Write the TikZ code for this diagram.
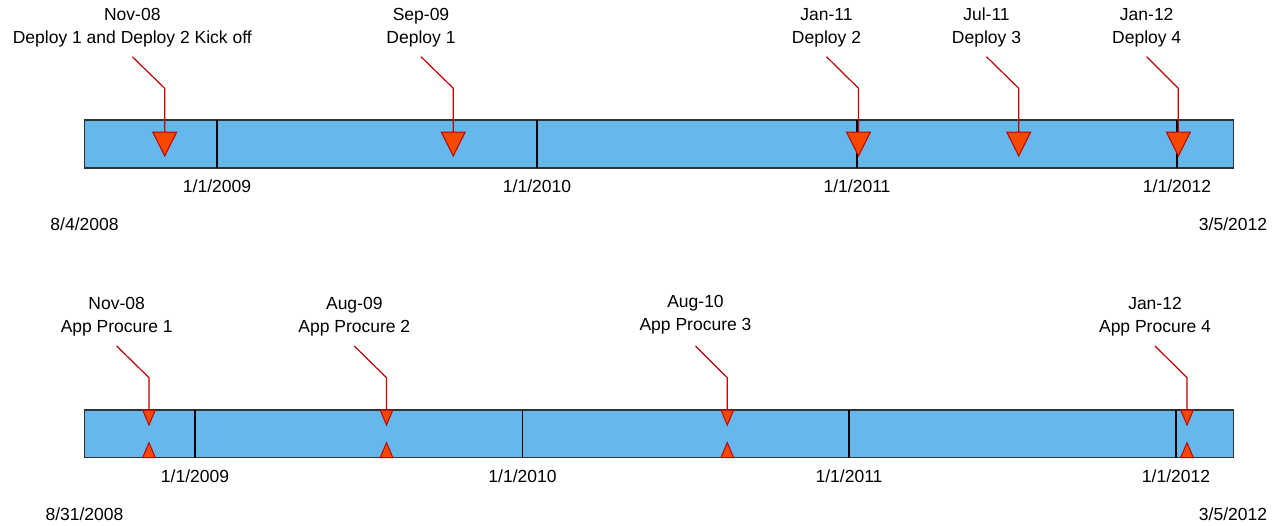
\documentclass[tikz,border=0pt]{standalone}
\usepackage{fontspec}
\setmainfont{Liberation Sans}
\usetikzlibrary{calc}
\definecolor{barfill}{RGB}{102,184,236}
\definecolor{barline}{RGB}{50,50,50}
\definecolor{trifill}{RGB}{248,72,0}
\definecolor{triline}{RGB}{190,0,0}
\definecolor{callline}{RGB}{190,0,0}
\tikzset{
  bar/.style={fill=barfill,draw=barline,line width=1.3pt},
  divider/.style={draw=black,line width=1.2pt},
  lbl/.style={inner sep=0pt,align=center,font=\fontsize{17.5}{23}\selectfont,text=black},
  callout/.style={draw=callline,line width=1.2pt},
  marker/.style={fill=trifill,draw=triline,line width=1pt,line join=miter}
}
\begin{document}
\begin{tikzpicture}[x=1pt,y=-1pt]
\useasboundingbox (0,0) rectangle (1276,525);

% ---------- top timeline ----------
\draw[bar] (84.5,120) rectangle (1233.5,168);
\foreach \x in {217,537,857,1177}{\draw[divider] (\x,120) -- (\x,168);}
\node[lbl] (t2009) at (217,186) {1/1/2009};
\node[lbl] (t2010) at (537,186) {1/1/2010};
\node[lbl] (t2011) at (857,186) {1/1/2011};
\node[lbl] (t2012) at (1177,186) {1/1/2012};
\node[lbl] (tstart) at (84.5,224) {8/4/2008};
\node[lbl] (tend) at (1233,224) {3/5/2012};

\node[lbl] (la) at (132.3,27.5) {Nov-08\\Deploy 1 and Deploy 2 Kick off};
\node[lbl] (lb) at (421,27.5) {Sep-09\\Deploy 1};
\node[lbl] (lc) at (826.5,27.5) {Jan-11\\Deploy 2};
\node[lbl] (ld) at (986.5,27.5) {Jul-11\\Deploy 3};
\node[lbl] (le) at (1146.7,27.5) {Jan-12\\Deploy 4};

\foreach \n/\sx/\vx in {a/132.3/164.7, b/421/453.3, c/826.5/858.5, d/986.5/1018.7, e/1146.7/1178.3}{
  \coordinate (s\n) at (\sx,56.7);
  \coordinate (m\n) at (\vx,132);
  \draw[callout] (s\n) -- (\vx,88.3) -- (m\n);
  \draw[marker] ($(m\n)+(-12,0)$) -- ($(m\n)+(12,0)$) -- ($(m\n)+(0,24)$) -- cycle;
}

% ---------- bottom timeline ----------
\draw[bar] (84.5,410) rectangle (1233.5,457.7);
\foreach \x in {195,522.5,849,1176}{\draw[divider] (\x,410) -- (\x,457.7);}
\node[lbl] (b2009) at (195,476) {1/1/2009};
\node[lbl] (b2010) at (522.5,476) {1/1/2010};
\node[lbl] (b2011) at (849,476) {1/1/2011};
\node[lbl] (b2012) at (1176,476) {1/1/2012};
\node[lbl] (bstart) at (84.5,514) {8/31/2008};
\node[lbl] (bend) at (1233,514) {3/5/2012};

\node[lbl] (pa) at (116.7,317) {Nov-08\\App Procure 1};
\node[lbl] (pb) at (354.3,317) {Aug-09\\App Procure 2};
\node[lbl] (pc) at (695.5,315) {Aug-10\\App Procure 3};
\node[lbl] (pd) at (1155,317) {Jan-12\\App Procure 4};

\foreach \n/\sx/\vx in {a/116.7/149, b/354.3/386.5, c/695.5/727.3, d/1155/1187}{
  \coordinate (q\n) at (\sx,346);
  \coordinate (r\n) at (\vx,410);
  \draw[callout] (q\n) -- (\vx,377.7) -- (r\n);
  \draw[marker] ($(r\n)+(-6.3,0)$) -- ($(r\n)+(6.3,0)$) -- ($(r\n)+(0,15)$) -- cycle;
  \draw[marker] ($(r\n)+(-6.3,47.5)$) -- ($(r\n)+(6.3,47.5)$) -- ($(r\n)+(0,32.7)$) -- cycle;
}
\end{tikzpicture}
\end{document}
